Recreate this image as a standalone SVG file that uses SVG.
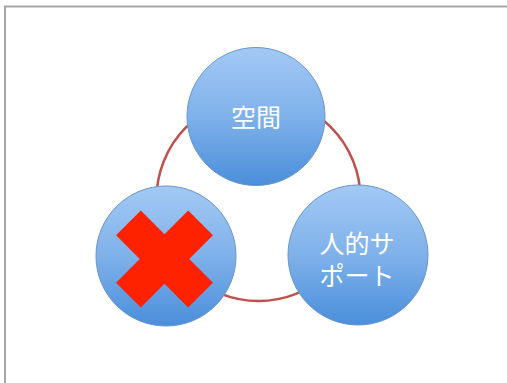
<svg xmlns="http://www.w3.org/2000/svg" width="507" height="383" viewBox="0 0 507 383">
<defs>
<linearGradient id="blue" x1="0" y1="0" x2="0" y2="1">
<stop offset="0" stop-color="#a3c9f5"/>
<stop offset="0.5" stop-color="#7fb1ea"/>
<stop offset="1" stop-color="#4a8edb"/>
</linearGradient>
<style>
.node{fill:url(#blue);stroke:#6a95c8;stroke-width:1}
.lbl{fill:#ffffff;font-family:"Liberation Sans","Noto Sans CJK JP",sans-serif;font-size:25px;text-anchor:middle}
</style>
</defs>
<rect width="507" height="383" fill="#ffffff"/>
<path d="M5 383 V6.5 H507" fill="none" stroke="#a6a6a6" stroke-width="2"/>
<g id="connectors">
<circle cx="258.5" cy="199" r="102" fill="none" stroke="#c0504d" stroke-width="2.5"/>
</g>
<g id="node-space">
<circle class="node" cx="256" cy="116.5" r="69"/>
<text class="lbl" x="256" y="127">空間</text>
</g>
<g id="node-cross">
<circle class="node" cx="166" cy="256" r="70"/>
<g transform="translate(164.5,259) rotate(45)">
<path d="M-17.5,-51 H17.5 V-17.5 H51 V17.5 H17.5 V51 H-17.5 V17.5 H-51 V-17.5 H-17.5 Z" fill="#ff2200"/>
</g>
</g>
<g id="node-support">
<circle class="node" cx="358" cy="255" r="70"/>
<text class="lbl" x="357" y="253">人的サ</text>
<text class="lbl" x="357" y="285">ポート</text>
</g>
</svg>
